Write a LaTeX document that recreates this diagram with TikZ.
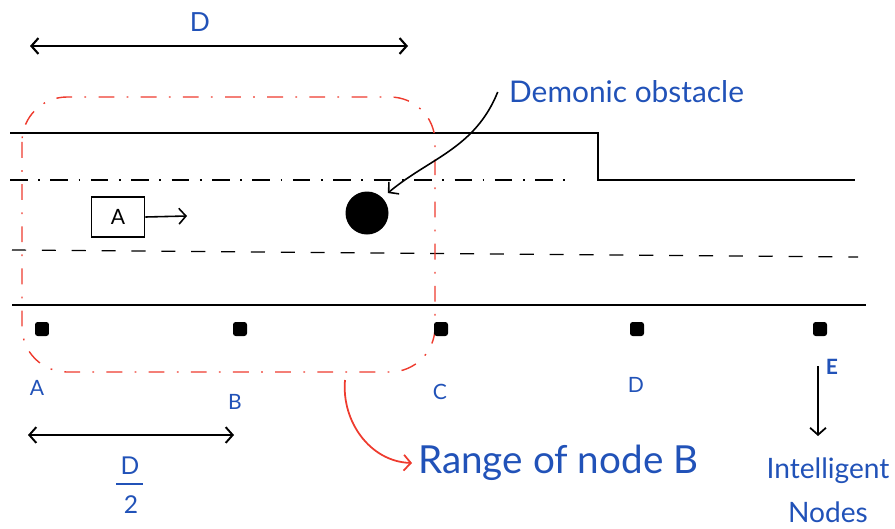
\documentclass[tikz,border=0pt]{standalone}
\usepackage{fontspec}
\setmainfont{Lato}
\usepackage{xcolor}
\usepackage{tikz}
\usetikzlibrary{arrows.meta,positioning}
\definecolor{penblue}{HTML}{2152B8}
\definecolor{penred}{HTML}{EE3B2E}
\tikzset{
  sensor/.style={fill,minimum size=0.28cm,inner sep=0,rounded corners=1.5pt},
  lbl/.style={penblue,font=\fontsize{12}{14}\selectfont},
}
\begin{document}
\begin{tikzpicture}[x=0.02cm,y=-0.02cm,>={Straight Barb[length=4pt,width=9pt]}]
  \useasboundingbox (0,0) rectangle (895,528);
  % road edges and lanes
  \draw[line width=1.1pt] (10,133) -- (598,133) -- (598,180) -- (855,180);
  \draw[line width=1.1pt] (12,305) -- (866,305);
  \draw[line width=0.7pt,dash pattern=on 10pt off 6pt on 1pt off 6pt] (10,180) -- (572,180);
  \draw[line width=0.7pt,dash pattern=on 8pt off 9pt] (12,250) -- (858,257);
  % range of node B
  \draw[penred,line width=0.8pt,dash pattern=on 9pt off 7pt on 1pt off 7pt,rounded corners=0.9cm] (22,97) rectangle (435,372);
  % span D
  \coordinate (dl) at (30,46);
  \coordinate (dr) at (408,46);
  \draw[<->,line width=1.2pt] (dl) -- (dr);
  \node[penblue,font=\fontsize{15}{18}\selectfont] (dlab) at (200,22) {D};
  % vehicle and obstacle
  \node[draw,line width=0.9pt,minimum width=1.06cm,minimum height=0.8cm,font=\fontsize{12}{14}\selectfont] (car) at (118,217) {A};
  \coordinate (carhead) at (187,216);
  \draw[->,line width=0.9pt] (car.east) -- (carhead);
  \node[circle,fill,minimum size=0.86cm,inner sep=0] (obs) at (367,213) {};
  \node[penblue,font=\fontsize{17}{20}\selectfont,anchor=west] (demon) at (503,92) {Demonic obstacle};
  \draw[->,line width=0.9pt,shorten >=4pt] ([xshift=-3pt]demon.west) to[out=-112,in=40] (obs.north east);
  % intelligent nodes along the road
  \foreach \x/\n in {42/A,240/B,441/C,637/D,820/E}
    \node[sensor] (s\n) at (\x,329) {};
  \node[lbl] (labA) at (37,388) {A};
  \node[lbl] (labB) at (235,402) {B};
  \node[lbl] (labC) at (440,392) {C};
  \node[lbl] (labD) at (636,385) {D};
  \node[lbl,font=\bfseries\fontsize{12}{14}\selectfont] (labE) at (832,367) {E};
  % span D/2
  \coordinate (hl) at (28,435);
  \coordinate (hr) at (234,435);
  \draw[<->,line width=1.1pt] (hl) -- (hr);
  \node[penblue,font=\fontsize{14}{16}\selectfont] (hnum) at (130,466) {D};
  \node[penblue,font=\fontsize{14}{16}\selectfont] (hden) at (131,505) {2};
  \draw[penblue,line width=0.8pt] (116,484) -- (143,484);
  % range annotation
  \coordinate (rstart) at (345,380);
  \node[penblue,font=\fontsize{22}{26}\selectfont,anchor=west] (range) at (412,463) {Range of node B};
  \draw[penred,->,line width=1pt] (rstart) to[out=-95,in=178] (range.west);
  % intelligent nodes annotation
  \coordinate (etop) at (818,366);
  \coordinate (ebot) at (818,436);
  \draw[->,line width=1pt] (etop) -- (ebot);
  \node[penblue,font=\fontsize{16}{25}\selectfont,align=center] (intel) at (828,490) {Intelligent\\Nodes};
\end{tikzpicture}
\end{document}
